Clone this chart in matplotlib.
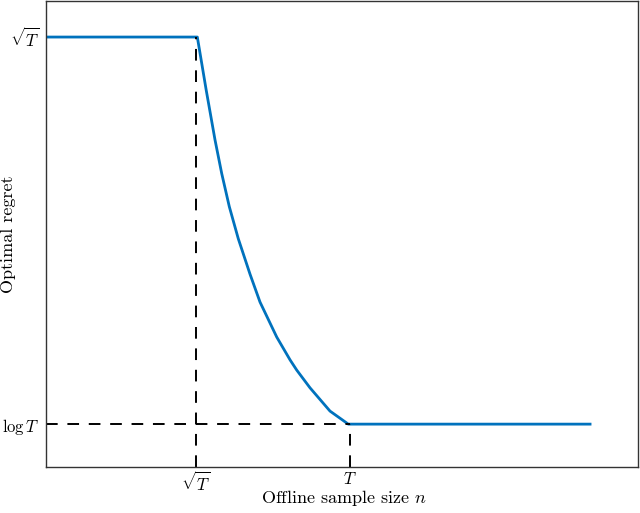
import matplotlib
matplotlib.use('Agg')
import matplotlib.pyplot as plt

plt.rcParams['mathtext.fontset'] = 'cm'
plt.rcParams['font.family'] = 'serif'
plt.rcParams['font.serif'] = ['cmr10', 'DejaVu Serif']
plt.rcParams['axes.unicode_minus'] = False

# regret curve (arbitrary units)
n_vals = [0.0, 25.56, 27.06, 28.55, 29.68, 30.96, 32.48, 34.46, 36.15,
          38.97, 41.22, 42.35, 44.59, 47.97, 51.06, 91.9]
regret = [92.3, 92.3, 80.9, 70.2, 63.0, 55.9, 49.0, 41.4, 35.4,
          27.9, 23.0, 20.8, 17.0, 12.0, 9.2, 9.2]

sqrt_T_x = 25.3
T_x = 51.4
sqrt_T_y = 92.3
log_T_y = 9.2

x_ticks = [sqrt_T_x, T_x]
x_labels = [r'$\sqrt{T}$', r'$T$']
y_ticks = [log_T_y, sqrt_T_y]
y_labels = [r'$\log T$', r'$\sqrt{T}$']

fig = plt.figure(figsize=(6.4, 5.13), dpi=100)
ax = fig.add_axes([0.0719, 0.0897, 0.925, 0.908])

ax.plot(n_vals, regret, color='#0072BD', lw=2)
dash = (0, (6, 5))
ax.plot([sqrt_T_x, sqrt_T_x], [0, sqrt_T_y], color='black', ls=dash, lw=1.4)
ax.plot([T_x, T_x], [0, log_T_y], color='black', ls=dash, lw=1.4)
ax.plot([0, T_x], [log_T_y, log_T_y], color='black', ls=dash, lw=1.4)

ax.set_xlim(0, 100)
ax.set_ylim(0, 100)
ax.set_xticks(x_ticks)
ax.set_xticklabels(x_labels)
ax.set_yticks(y_ticks)
ax.set_yticklabels(y_labels)
ax.tick_params(length=0, labelsize=12)
ax.tick_params(axis='y', pad=5)
ax.tick_params(axis='x', pad=3)
for s in ax.spines.values():
    s.set_color('#333333')
    s.set_linewidth(1.0)

ax.set_xlabel(r'Offline sample size $n$', fontsize=13)
ax.set_ylabel('Optimal regret', fontsize=13)
ax.xaxis.set_label_coords(0.503, -0.066)
ax.yaxis.set_label_coords(-0.063, 0.5)
ax.xaxis.label.set_va('center')
ax.yaxis.label.set_va('center')

fig.savefig('out.png', dpi=100)
